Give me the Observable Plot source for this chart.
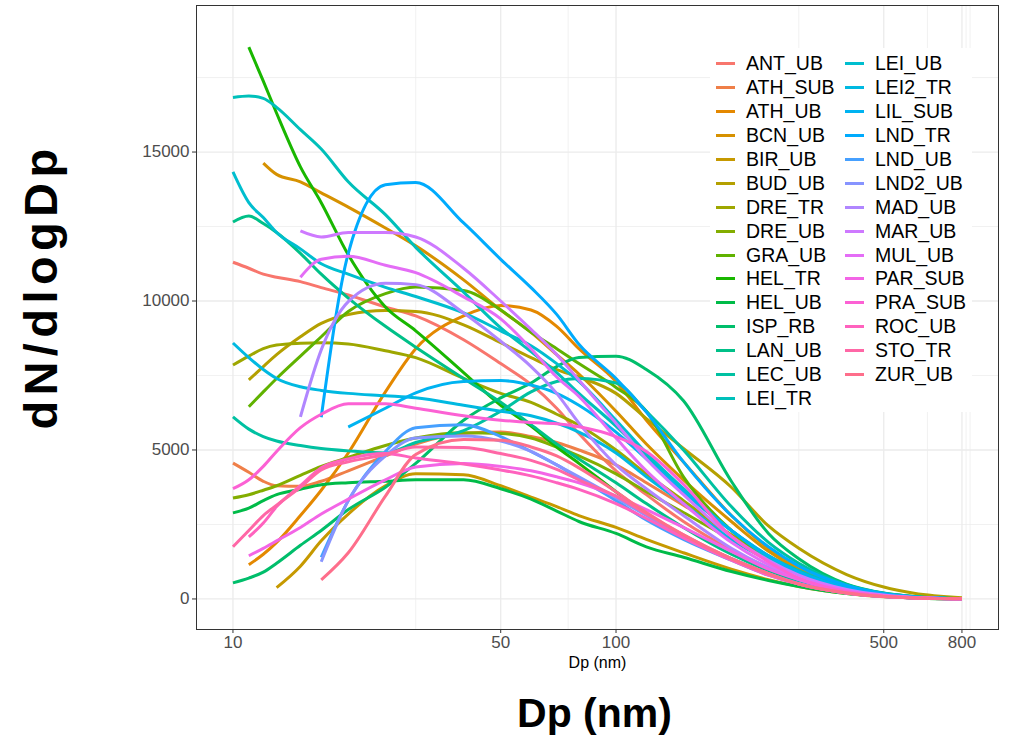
<!DOCTYPE html>
<html><head><meta charset="utf-8">
<script src="https://cdn.jsdelivr.net/npm/d3@7"></script>
<script src="https://cdn.jsdelivr.net/npm/@observablehq/plot@0.6"></script>
<style>
body{margin:0;background:#fff;}
#wrap{position:relative;width:1013px;height:740px;font-family:"Liberation Sans",Arial,sans-serif;}
#legend{position:absolute;left:710px;top:48px;width:262px;height:364px;background:#fff;box-sizing:border-box;padding:4px 0 0 6px;display:grid;grid-template-rows:repeat(15,23.9px);grid-auto-flow:column;grid-template-columns:129px 125px;font-size:19.5px;color:#000;}
.item{display:flex;align-items:center;white-space:nowrap;}
.sw{width:19px;height:3px;margin-right:11px;flex:none;}
</style></head>
<body><div id="wrap"></div>
<script>
// particle diameter grid (nm)
const dp = [10, 11, 12, 13, 15, 17, 20, 25, 30, 40, 50, 60, 70, 80, 100, 120, 150, 200, 250, 300, 400, 500, 600, 800];
const sites = ["ANT_UB","ATH_SUB","ATH_UB","BCN_UB","BIR_UB","BUD_UB","DRE_TR","DRE_UB","GRA_UB","HEL_TR","HEL_UB","ISP_RB","LAN_UB","LEC_UB","LEI_TR","LEI_UB","LEI2_TR","LIL_SUB","LND_TR","LND_UB","LND2_UB","MAD_UB","MAR_UB","MUL_UB","PAR_SUB","PRA_SUB","ROC_UB","STO_TR","ZUR_UB"];
const xTicks = [10, 50, 100, 500, 800];
const xMinor = [30, 75, 300, 650, 820, 840];
const yTicks = [0, 5000, 10000, 15000];
const yMinor = [2500, 7500, 12500, 17500];

// dN/dlogDp values at each dp (null = not measured)
const ANT_UB  = [11300,11100,10900,10800,10650,10450,10200,9800,9500,8700,7900,7200,6400,5550,4300,3500,2600,1650,1050,650,270,110,45,5];
const ATH_SUB = [4560,4250,3950,3800,3780,3950,4300,4800,5200,5550,5600,5450,5250,5000,4500,3900,3150,2150,1450,950,420,170,70,10];
const ATH_UB  = [null,1150,1500,1900,2800,3650,4900,6950,8400,9500,9850,9700,9150,8400,7300,6000,4600,2800,1700,1100,450,180,80,10];
const BCN_UB  = [null,null,14630,14250,14000,13630,13150,12450,11850,10710,9700,8950,8200,7550,6300,5200,4000,2600,1600,1000,400,160,60,10];
const BIR_UB  = [null,null,null,380,1100,1950,2850,3800,4200,4170,3800,3420,3100,2800,2400,2000,1550,1000,650,420,180,70,30,5];
const BUD_UB  = [null,7350,7800,8200,8800,9250,9550,9680,9650,9200,8600,8100,7700,7450,6900,6050,5050,3750,2450,1700,820,400,190,40];
const DRE_TR  = [7850,8150,8400,8520,8580,8600,8560,8330,8100,7400,6900,6600,6200,5830,5000,4200,3300,2150,1400,900,380,150,70,10];
const DRE_UB  = [3390,3500,3650,3800,4150,4450,4750,5150,5400,5580,5550,5400,5100,4800,4200,3600,2900,2000,1350,900,400,160,70,10];
const GRA_UB  = [null,6450,6950,7400,8150,8800,9650,10250,10470,10350,9700,8950,8400,7900,7100,6300,4100,2300,1400,900,380,150,60,10];
const HEL_TR  = [null,18520,17380,16300,14500,13300,11550,9800,9000,7600,6500,5800,5100,4550,3600,2850,2100,1350,850,550,230,90,35,5];
const HEL_UB  = [2890,3050,3300,3500,3680,3830,3900,3950,4000,4000,3700,3350,2950,2600,2200,1750,1400,920,620,420,180,80,35,5];
const ISP_RB  = [540,700,900,1200,1800,2300,3000,3750,4550,6000,6750,7250,7800,8100,8150,7700,6650,3950,2200,1350,500,200,80,10];
const LAN_UB  = [12650,12850,12600,12300,11600,10900,10100,9150,8450,7400,6600,5850,5200,4700,3900,3200,2400,1500,950,600,250,100,40,5];
const LEC_UB  = [6110,5700,5450,5300,5150,5050,4970,4900,5250,5650,6300,6950,7300,7400,7250,6300,5000,3100,1900,1200,480,190,80,10];
const LEI_TR  = [16830,16880,16800,16500,15750,15100,14000,12900,11800,10300,9100,8300,7600,6900,5800,4800,3600,2300,1450,950,400,160,60,10];
const LEI_UB  = [14330,13300,12800,12300,11750,11250,10900,10460,10150,9600,9000,8500,7900,7300,6000,4900,3700,2300,1400,900,350,140,60,10];
const LEI2_TR = [8590,8100,7700,7400,7120,7000,6900,6820,6750,6500,6300,6150,5900,5600,4900,4100,3200,2000,1300,850,350,140,60,10];
const LIL_SUB = [null,null,null,null,null,null,5770,6400,6920,7300,7330,7180,6900,6500,5600,4700,3600,2300,1450,900,380,150,60,10];
const LND_TR  = [null,null,null,null,null,6100,11600,13900,13980,12620,11400,10450,9550,8550,7400,6270,4600,2800,1750,1100,450,180,70,10];
const LND_UB  = [null,null,null,null,null,1400,3300,4950,5750,5850,5450,4950,4500,4050,3300,2650,2000,1300,800,500,200,80,30,5];
const LND2_UB = [null,null,null,null,null,1250,3300,4800,5400,5470,5300,4950,4500,4100,3400,2800,2100,1350,850,520,200,80,30,5];
const MAD_UB  = [null,null,null,null,6110,8360,9980,10600,10550,9600,8650,7800,6900,5900,4500,3700,2800,1700,1050,650,260,100,40,5];
const MAR_UB  = [null,null,null,null,12350,12150,12300,12300,12150,11100,10000,9050,8200,7350,5900,4700,3500,2100,1300,800,320,130,50,5];
const MUL_UB  = [null,null,null,null,10800,11400,11500,11200,10950,10140,9400,8400,7450,6800,5400,4300,3200,1900,1150,700,280,110,45,5];
const PAR_SUB = [null,1450,1700,1950,2400,2850,3350,4000,4430,4550,4450,4300,4100,3900,3450,3000,2400,1600,1000,650,250,100,40,5];
const PRA_SUB = [3700,4000,4450,4950,5750,6200,6550,6550,6400,6150,6000,5920,5880,5780,5450,4950,3850,2100,1250,700,250,100,40,5];
const ROC_UB  = [null,2080,2550,3100,3800,4400,4700,4880,4730,4530,4330,4130,3900,3680,3200,2700,2050,1300,800,500,200,80,30,5];
const STO_TR  = [1750,2300,2800,3150,3750,4330,4600,4850,5100,5080,4880,4650,4350,4000,3450,2850,2150,1350,850,500,200,80,30,5];
const ZUR_UB  = [null,null,null,null,null,640,1550,3450,4850,5350,5330,5100,4800,4400,3600,2900,2150,1350,850,500,200,80,30,5];

const series = {ANT_UB,ATH_SUB,ATH_UB,BCN_UB,BIR_UB,BUD_UB,DRE_TR,DRE_UB,GRA_UB,HEL_TR,HEL_UB,ISP_RB,LAN_UB,LEC_UB,LEI_TR,LEI_UB,LEI2_TR,LIL_SUB,LND_TR,LND_UB,LND2_UB,MAD_UB,MAR_UB,MUL_UB,PAR_SUB,PRA_SUB,ROC_UB,STO_TR,ZUR_UB};

const rows = sites.flatMap(s => series[s].map((v, i) => v == null ? null : {site: s, dp: dp[i], n: v}).filter(Boolean));

// ggplot2 default hue palette (polar LUV)
function hclLuv(h, c, l) {
  const hr = h * Math.PI / 180, U = c * Math.cos(hr), V = c * Math.sin(hr);
  const Xn = 95.047, Yn = 100, Zn = 108.883;
  const den = Xn + 15 * Yn + 3 * Zn, un = 4 * Xn / den, vn = 9 * Yn / den;
  const Y = l > 8 ? Yn * Math.pow((l + 16) / 116, 3) : Yn * l / 903.3;
  const u = U / (13 * l) + un, v = V / (13 * l) + vn;
  const X = 9 * Y * u / (4 * v), Z = 3 * Y / v - X / 3 - 5 * Y;
  const x = X / 100, y = Y / 100, z = Z / 100;
  const lin = [3.240479*x - 1.537150*y - 0.498535*z, -0.969256*x + 1.875992*y + 0.041556*z, 0.055648*x - 0.204043*y + 1.057311*z];
  const g = lin.map(t => { t = t <= 0.0031308 ? 12.92 * t : 1.055 * Math.pow(t, 1 / 2.4) - 0.055; return Math.round(255 * Math.max(0, Math.min(1, t))); });
  return `rgb(${g[0]},${g[1]},${g[2]})`;
}
const palette = sites.map((s, i) => hclLuv(15 + i * 360 / sites.length, 100, 65));

const chart = Plot.plot({
  width: 1013, height: 740,
  marginLeft: 196, marginRight: 15, marginTop: 5, marginBottom: 111,
  style: {fontFamily: '"Liberation Sans", Arial, sans-serif', fontSize: "17px", background: "white"},
  x: {type: "log", domain: [Math.pow(10, 0.9048), Math.pow(10, 2.9985)]},
  y: {domain: [-1025, 19918]},
  color: {domain: sites, range: palette},
  marks: [
    Plot.gridX(xMinor, {stroke: "#EBEBEB", strokeOpacity: 1, strokeWidth: 0.7}),
    Plot.gridY(yMinor, {stroke: "#EBEBEB", strokeOpacity: 1, strokeWidth: 0.7}),
    Plot.gridX(xTicks, {stroke: "#EBEBEB", strokeOpacity: 1, strokeWidth: 1.3}),
    Plot.gridY(yTicks, {stroke: "#EBEBEB", strokeOpacity: 1, strokeWidth: 1.3}),
    Plot.line(rows, {x: "dp", y: "n", z: "site", stroke: "site", strokeWidth: 3, curve: "monotone-x", strokeLinecap: "butt"}),
    Plot.frame({stroke: "#333333", strokeWidth: 1}),
    Plot.axisX(xTicks, {tickSize: 4, tickFormat: () => "", stroke: "#333333", label: null}),
    Plot.text(xTicks, {x: d => d, text: d => String(d), frameAnchor: "bottom", lineAnchor: "top", dy: 6, fill: "#4D4D4D", fontSize: 17}),
    Plot.axisY(yTicks, {tickSize: 4, tickPadding: 3, tickFormat: d => String(d), stroke: "#333333", fill: "#4D4D4D", fontSize: 17, label: null}),
    Plot.text(["Dp (nm)"], {frameAnchor: "bottom", dy: 38, fontSize: 16, fill: "#000"}),
    Plot.text(["Dp (nm)"], {frameAnchor: "bottom", dx: -3, dy: 97, fontSize: 41, fontWeight: "bold", fill: "#000"}),
    Plot.text(["dN/dlogDp"], {frameAnchor: "left", textAnchor: "middle", dx: -155, dy: -31, rotate: -90, fontSize: 47, fontWeight: "bold", fill: "#000"})
  ]
});
const wrap = document.getElementById("wrap");
wrap.appendChild(chart);
chart.querySelectorAll("text").forEach(t => {
  if (t.textContent === "dN/dlogDp") t.style.letterSpacing = "5.4px";
});

// legend inside the panel
const color = chart.scale("color");
const legend = document.createElement("div");
legend.id = "legend";
sites.forEach(s => {
  const it = document.createElement("div");
  it.className = "item";
  const sw = document.createElement("span");
  sw.className = "sw";
  sw.style.background = color.apply(s);
  it.appendChild(sw);
  it.appendChild(document.createTextNode(s));
  legend.appendChild(it);
});
wrap.appendChild(legend);
</script>
</body></html>
